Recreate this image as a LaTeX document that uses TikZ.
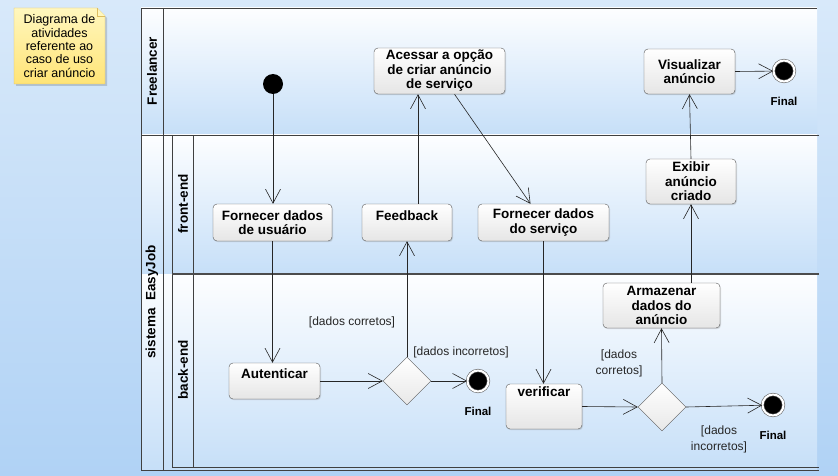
\documentclass[tikz,border=0pt]{standalone}
\usepackage{fontspec}
\setmainfont{Liberation Sans}
\usetikzlibrary{positioning,shapes.geometric,arrows.meta,shadows}

\definecolor{bgtop}{RGB}{216,233,250}
\definecolor{bgbot}{RGB}{176,210,245}
\definecolor{lanetop}{RGB}{253,254,255}
\definecolor{lanebot}{RGB}{198,223,248}
\definecolor{notetop}{RGB}{255,247,190}
\definecolor{notebot}{RGB}{255,228,118}
\definecolor{noteline}{RGB}{220,188,96}
\definecolor{boxline}{RGB}{88,88,88}

\tikzset{
  act/.style={rectangle, rounded corners=4pt, draw=boxline, top color=white,
    bottom color=gray!20, align=center, inner sep=1pt,
    font=\bfseries\fontsize{13.5}{14.5}\selectfont,
    drop shadow={shadow xshift=1pt, shadow yshift=-1.2pt, opacity=0.25}},
  decision/.style={diamond, aspect=1, minimum size=48pt, inner sep=0pt,
    draw=boxline, top color=white, bottom color=gray!18},
  start/.style={circle, fill=black, minimum size=20pt, inner sep=0pt},
  final/.style={circle, fill=black, minimum size=21pt, inner sep=0pt,
    draw=gray!80!black, double=white, double distance=2pt, line width=0.6pt},
  finlbl/.style={font=\bfseries\fontsize{11.5}{12}\selectfont, inner sep=0pt},
  flow/.style={-{Straight Barb[length=14pt,width=15pt]}, line width=0.6pt, draw=black!85},
  guard/.style={font=\fontsize{12}{16}\selectfont, align=center, text=black!85},
  lane/.style={draw=black!75, line width=0.8pt},
  lanetitle/.style={rotate=90, font=\bfseries\fontsize{13.5}{15}\selectfont}
}

\begin{document}
\begin{tikzpicture}[x=1pt,y=-1pt]
    % Background and partitions
    \fill[top color=bgtop, bottom color=bgbot] (0,0) rectangle (838,476);
    \useasboundingbox (0,0) rectangle (838,476);
    \fill[top color=lanetop, bottom color=lanebot] (141,8) rectangle (817,135);
    \fill[top color=lanetop, bottom color=lanebot] (141,135) rectangle (817,274);
    \fill[top color=lanetop, bottom color=lanebot] (141,274) rectangle (817,470);

    \draw[lane] (141,8) -- (817,8);
    \draw[lane] (141,135) -- (819,135);
    \draw[lane] (141,8) -- (141,470);
    \draw[lane] (163,8) -- (163,470);
    \draw[lane] (172,135) -- (172,467);
    \draw[lane] (193,135) -- (193,467);
    \draw[draw=black!70, line width=1.8pt] (172,274) -- (819,274);
    \draw[lane] (172,467) -- (819,467);
    \draw[lane] (141,470) -- (819,470);

    \node[lanetitle] (tFree) at (152,71) {Freelancer};
    \node[lanetitle] (tSys) at (152,302) {sistema~~EasyJob};
    \node[lanetitle] (tFront) at (183,204) {front-end};
    \node[lanetitle] (tBack) at (183,370) {back-end};

    % Note
    \fill[black, opacity=0.15] (16,10) -- (99,10) -- (107,18) -- (107,86) -- (16,86) -- cycle;
    \draw[noteline, top color=notetop, bottom color=notebot]
      (14,8) -- (97,8) -- (105,16) -- (105,84) -- (14,84) -- cycle;
    \draw[noteline, fill=notetop] (97,8) -- (97,16) -- (105,16);
    \node[align=center, font=\fontsize{12.5}{13.3}\selectfont] (note) at (59.5,46)
      {Diagrama de\\atividades\\referente ao\\caso de uso\\criar anúncio};

    % Nodes
    \node[start] (ini) at (273,84) {};
    \node[act, minimum width=131pt, minimum height=46pt] (acs) at (439.5,71)
      {Acessar a opção\\de criar anúncio\\de serviço};
    \node[act, minimum width=91pt, minimum height=45pt] (vis) at (689.5,71.5)
      {Visualizar\\anúncio};
    \node[final] (fin1) at (784,71) {};
    \node[finlbl] (lf1) at (784,101) {Final};

    \node[act, minimum width=119pt, minimum height=37pt] (usr) at (272.5,222.5)
      {Fornecer dados\\de usuário};
    \node[act, minimum width=90pt, minimum height=37pt] (fb) at (407,222.5)
      {Feedback\\~};
    \node[act, minimum width=131pt, minimum height=37pt] (srv) at (543.5,222.5)
      {Fornecer dados\\do serviço};
    \node[act, minimum width=90pt, minimum height=45pt] (exb) at (691,181.5)
      {Exibir\\anúncio\\criado};

    \node[act, minimum width=91pt, minimum height=36pt] (aut) at (274.5,381)
      {Autenticar\\~};
    \node[decision] (d1) at (407,381) {};
    \node[final] (fin2) at (478,381) {};
    \node[finlbl] (lf2) at (478,411) {Final};
    \node[act, minimum width=76pt, minimum height=45pt] (ver) at (544,406.5)
      {verificar\\~\\~};
    \node[decision] (d2) at (662,407) {};
    \node[final] (fin3) at (773,405) {};
    \node[finlbl] (lf3) at (773,435) {Final};
    \node[act, minimum width=117pt, minimum height=45pt] (arm) at (661.5,305.5)
      {Armazenar\\dados do\\anúncio};

    % Guards
    \node[guard] (g1) at (352,322) {[dados corretos]};
    \node[guard] (g2) at (461,352) {[dados incorretos]};
    \node[guard] (g3) at (619,363) {[dados\\corretos]};
    \node[guard] (g4) at (719,439) {[dados\\incorretos]};

    % Edges
    \draw[flow] (ini) -- (ini |- usr.north);
    \draw[flow] (usr.south) -- (usr.south |- aut.north);
    \draw[flow] (aut.east) -- (d1.west);
    \draw[flow] (d1.east) -- (fin2);
    \draw[flow] (d1.north) -- (fb.south);
    \draw[flow] ([xshift=11pt]fb.north) -- ([xshift=11pt]fb.north |- acs.south);
    \draw[flow] ([xshift=15pt]acs.south) -- ([xshift=-13pt]srv.north);
    \draw[flow] (srv.south) -- (srv.south |- ver.north);
    \draw[flow] (ver.east) -- (d2.west);
    \draw[flow] (d2.east) -- (fin3);
    \draw[flow] (d2.north) -- (arm.south);
    \draw[flow] ([xshift=29.5pt]arm.north) -- (exb.south);
    \draw[flow] (exb.north) -- (vis.south);
    \draw[flow] (vis.east) -- (fin1);
\end{tikzpicture}
\end{document}
